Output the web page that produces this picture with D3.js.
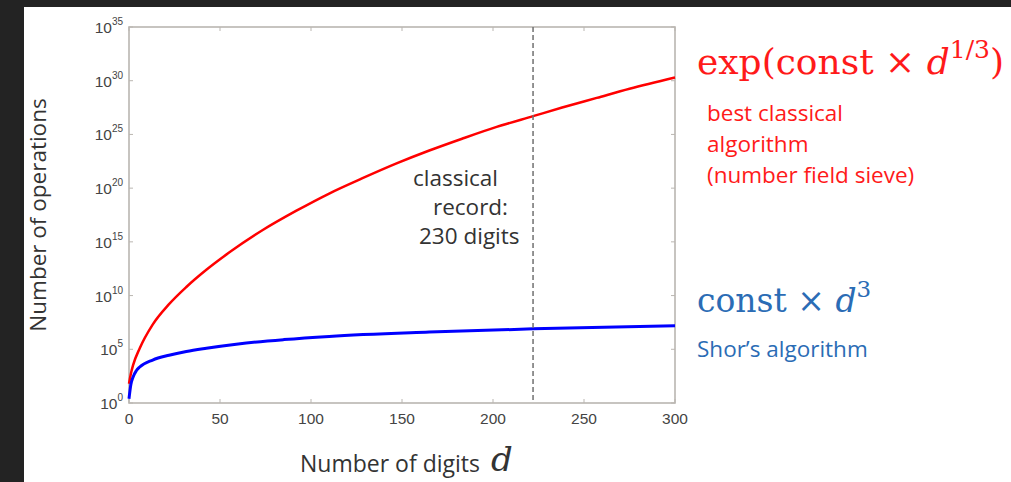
<!DOCTYPE html>
<html>
<head>
<meta charset="utf-8">
<script src="https://cdn.jsdelivr.net/npm/d3@7"></script>
<style>
  html, body { margin: 0; padding: 0; background: #232323; }
  svg { display: block; }
</style>
</head>
<body>
<script>
const width = 1011;
const height = 482;

// digits d -> log10(number of operations)
const classicalD = [0, 1, 2.2, 5.9, 13, 22, 31.5, 42.5, 55, 73.5, 92, 110, 128, 147, 165, 183, 202, 222, 238, 257, 275, 300];
const classicalExp = [1.8, 2.7, 3.5, 5.1, 7.3, 9.2, 10.8, 12.4, 14.0, 16.1, 17.9, 19.5, 20.9, 22.3, 23.5, 24.6, 25.7, 26.7, 27.5, 28.4, 29.25, 30.3];

const shorD = [0, 1, 2.2, 4, 5.9, 13, 22, 31.5, 42.5, 60, 85, 110, 165, 222, 300];
const shorExp = [0.4, 1.7, 2.4, 3.0, 3.35, 4.0, 4.45, 4.8, 5.1, 5.5, 5.9, 6.2, 6.6, 6.9, 7.2];

const xTicks = [0, 50, 100, 150, 200, 250, 300];
const yTickExps = [0, 5, 10, 15, 20, 25, 30, 35];
const recordDigits = 222;

const svg = d3.select('body').append('svg').attr('width', width).attr('height', height);

// dark frame of the screenshot, white page
svg.append('rect').attr('x', 24).attr('y', 7).attr('width', width - 24).attr('height', height - 7).attr('fill', '#ffffff');

const x = d3.scaleLinear().domain([0, 300]).range([129, 675]);
const y = d3.scaleLog().domain([1, 1e35]).range([403, 27]);

const axisColor = '#bab6b1';
const labelColor = '#444';

// frame
svg.append('rect')
  .attr('x', x(0)).attr('y', y(1e35))
  .attr('width', x(300) - x(0)).attr('height', y(1) - y(1e35))
  .attr('fill', 'none').attr('stroke', axisColor).attr('stroke-width', 1.6);

// x ticks (inward)
const xt = svg.selectAll('.xt').data(xTicks).enter().append('g').attr('class', 'xt');
xt.append('line')
  .attr('x1', (d) => x(d)).attr('x2', (d) => x(d))
  .attr('y1', y(1)).attr('y2', y(1) - 4)
  .attr('stroke', axisColor).attr('stroke-width', 1);
xt.append('line')
  .attr('x1', (d) => x(d)).attr('x2', (d) => x(d))
  .attr('y1', y(1e35)).attr('y2', y(1e35) + 4)
  .attr('stroke', axisColor).attr('stroke-width', 1);
xt.append('text')
  .attr('x', (d) => x(d)).attr('y', 424)
  .attr('text-anchor', 'middle')
  .attr('font-family', 'Liberation Sans, Arial, sans-serif')
  .attr('font-size', 15.5).attr('fill', labelColor)
  .text((d) => d);

// y ticks (inward) with 10^n labels
const yt = svg.selectAll('.yt').data(yTickExps).enter().append('g').attr('class', 'yt');
yt.append('line')
  .attr('x1', x(0)).attr('x2', x(0) + 4)
  .attr('y1', (d) => y(Math.pow(10, d))).attr('y2', (d) => y(Math.pow(10, d)))
  .attr('stroke', axisColor).attr('stroke-width', 1);
yt.append('line')
  .attr('x1', x(300)).attr('x2', x(300) - 4)
  .attr('y1', (d) => y(Math.pow(10, d))).attr('y2', (d) => y(Math.pow(10, d)))
  .attr('stroke', axisColor).attr('stroke-width', 1);
const ylab = yt.append('text')
  .attr('x', 123).attr('y', (d) => y(Math.pow(10, d)) + 6)
  .attr('text-anchor', 'end')
  .attr('font-family', 'Liberation Sans, Arial, sans-serif')
  .attr('fill', labelColor);
ylab.append('tspan').attr('font-size', 15.5).text('10');
ylab.append('tspan').attr('font-size', 10).attr('dy', -8).text((d) => d);

// curves
const line = d3.line()
  .x((p) => x(p[0]))
  .y((p) => y(Math.pow(10, p[1])))
  .curve(d3.curveMonotoneX);

svg.append('path')
  .datum(d3.zip(classicalD, classicalExp))
  .attr('d', line)
  .attr('fill', 'none').attr('stroke', '#ff0000').attr('stroke-width', 2.5);

svg.append('path')
  .datum(d3.zip(shorD, shorExp))
  .attr('d', line)
  .attr('fill', 'none').attr('stroke', '#0000ff').attr('stroke-width', 3);

// record line
svg.append('line')
  .attr('x1', x(recordDigits)).attr('x2', x(recordDigits))
  .attr('y1', y(1e35)).attr('y2', y(1))
  .attr('stroke', '#707070').attr('stroke-width', 1.5)
  .attr('stroke-dasharray', '5,3');

const sans = '"Open Sans", Lato, sans-serif';
const serif = '"DejaVu Serif", "Liberation Serif", serif';
const noteSize = 22.5;

// record annotation
[['classical', 413, 186], ['record:', 433, 215], ['230 digits', 419, 244]].forEach((r) => {
  svg.append('text').attr('x', r[1]).attr('y', r[2])
    .attr('font-family', sans).attr('font-size', noteSize).attr('fill', '#333')
    .text(r[0]);
});

// axis titles
svg.append('text')
  .attr('transform', 'translate(46,215) rotate(-90)')
  .attr('text-anchor', 'middle')
  .attr('font-family', sans).attr('font-size', 22.5).attr('fill', '#333')
  .text('Number of operations');

svg.append('text')
  .attr('x', 300).attr('y', 472)
  .attr('font-family', sans).attr('font-size', 23).attr('fill', '#333')
  .text('Number of digits');
svg.append('text')
  .attr('x', 491).attr('y', 471)
  .attr('font-family', serif).attr('font-style', 'italic')
  .attr('font-size', 34).attr('fill', '#333')
  .text('d');

// red formula and note
const red = '#ff1a1a';
const f1 = svg.append('text').attr('x', 697).attr('y', 74)
  .attr('font-family', serif).attr('font-size', 36).attr('fill', red);
f1.append('tspan').text('exp(const \u00d7 ');
f1.append('tspan').attr('font-style', 'italic').text('d');
f1.append('tspan').attr('font-size', 25).attr('dy', -16).text('1/3');
f1.append('tspan').attr('dy', 16).text(')');

[['best classical', 121], ['algorithm', 152], ['(number field sieve)', 183]].forEach((r) => {
  svg.append('text').attr('x', 707).attr('y', r[1])
    .attr('font-family', sans).attr('font-size', noteSize).attr('fill', red)
    .text(r[0]);
});

// blue formula and note
const blue = '#2b6cb5';
const f2 = svg.append('text').attr('x', 697).attr('y', 312)
  .attr('font-family', serif).attr('font-size', 33).attr('fill', blue);
f2.append('tspan').text('const \u00d7 ');
f2.append('tspan').attr('font-style', 'italic').text('d');
f2.append('tspan').attr('font-size', 23).attr('dy', -15).text('3');

svg.append('text').attr('x', 697).attr('y', 357)
  .attr('font-family', sans).attr('font-size', noteSize).attr('fill', blue)
  .text('Shor\u2019s algorithm');
</script>
</body>
</html>
